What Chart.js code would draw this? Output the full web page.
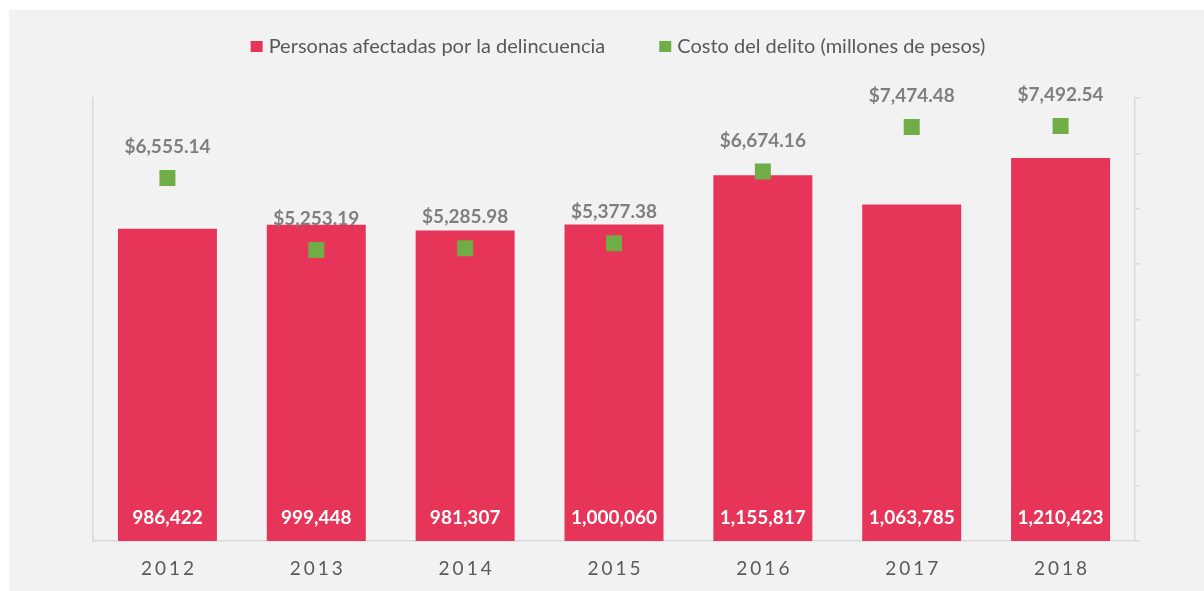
<!DOCTYPE html>
<html>
<head>
<meta charset="utf-8">
<script src="https://cdn.jsdelivr.net/npm/chart.js@4.4.1/dist/chart.umd.min.js"></script>
<style>
  html, body { margin: 0; padding: 0; background: #fff; }
  #wrap { position: absolute; left: 9px; top: 10px; width: 1195px; height: 581px; background: #f2f2f2; }
</style>
</head>
<body>
<div id="wrap"><canvas id="chart" width="1195" height="581"></canvas></div>
<script>
const years = ['2012', '2013', '2014', '2015', '2016', '2017', '2018'];
const personas = [986422, 999448, 981307, 1000060, 1155817, 1063785, 1210423];
const costo = [6555.14, 5253.19, 5285.98, 5377.38, 6674.16, 7474.48, 7492.54];

const FONT = 'Lato, "Open Sans", sans-serif';

// labels, legend and spaced year ticks
const labelPlugin = {
    id: 'labelPlugin',
    afterDraw(chart) {
        const ctx = chart.ctx;
        ctx.save();
        ctx.textAlign = 'center';
        ctx.textBaseline = 'middle';

        // bar values
        ctx.font = 'bold 19px ' + FONT;
        ctx.fillStyle = '#ffffff';
        chart.getDatasetMeta(0).data.forEach((el, i) => {
            ctx.fillText(personas[i].toLocaleString('en-US'), el.x, el.base - 23.5);
        });

        // cost values
        ctx.fillStyle = '#7f7f7f';
        chart.getDatasetMeta(1).data.forEach((el, i) => {
            const txt = '$' + costo[i].toLocaleString('en-US', {minimumFractionDigits: 2});
            ctx.fillText(txt, el.x, el.y - 31);
        });

        // year ticks with letter spacing
        const xs = chart.scales.x;
        ctx.font = '19px ' + FONT;
        ctx.fillStyle = '#595959';
        ctx.letterSpacing = '3px';
        years.forEach((y, i) => {
            ctx.fillText(y, xs.getPixelForValue(i) + 1.5, xs.top + 27.5);
        });
        ctx.letterSpacing = '0px';

        // legend
        ctx.font = '20px ' + FONT;
        ctx.textAlign = 'left';
        const items = chart.data.datasets.map(d => ({
            text: d.label,
            color: d.backgroundColor,
            w: ctx.measureText(d.label).width
        }));
        const box = 12, gap = 6, spacing = 54;
        let total = 0;
        items.forEach((it, i) => { total += box + gap + it.w + (i ? spacing : 0); });
        let x = 609 - total / 2;
        const cy = 36.5;
        items.forEach(it => {
            ctx.fillStyle = it.color;
            ctx.fillRect(x, cy - 5.5, box, 11);
            ctx.fillStyle = '#595959';
            ctx.fillText(it.text, x + box + gap, cy);
            x += box + gap + it.w + spacing;
        });
        ctx.restore();
    }
};

new Chart(document.getElementById('chart'), {
    data: {
        labels: years,
        datasets: [{
            type: 'bar',
            label: 'Personas afectadas por la delincuencia',
            data: personas,
            backgroundColor: '#e73559',
            barPercentage: 0.665,
            categoryPercentage: 1.0,
            yAxisID: 'y',
            order: 1
        }, {
            type: 'line',
            label: 'Costo del delito (millones de pesos)',
            data: costo,
            showLine: false,
            pointStyle: 'rect',
            pointRadius: 11.3,
            pointHoverRadius: 11.3,
            pointBorderWidth: 0,
            backgroundColor: '#70ad47',
            borderColor: '#70ad47',
            yAxisID: 'y1',
            order: 0
        }]
    },
    options: {
        responsive: false,
        animation: false,
        devicePixelRatio: 1,
        layout: { padding: { top: 88, left: 0, right: 0, bottom: 0 } },
        plugins: {
            legend: { display: false },
            tooltip: { enabled: false }
        },
        scales: {
            x: {
                grid: { display: false },
                border: { display: true, color: '#d9d9d9', width: 1.5 },
                ticks: { display: false },
                afterFit(s) { s.height = 50; }
            },
            y: {
                position: 'left',
                min: 0,
                max: 1400000,
                grid: { display: false },
                border: { display: true, color: '#d9d9d9', width: 1.5 },
                ticks: { display: false },
                afterFit(s) { s.width = 84; }
            },
            y1: {
                position: 'right',
                min: 0,
                max: 8000,
                ticks: { display: false, stepSize: 1000 },
                grid: { drawOnChartArea: false, drawTicks: true, tickLength: 5, color: '#d9d9d9', lineWidth: 1.5 },
                border: { display: true, color: '#d9d9d9', width: 1.5 },
                afterFit(s) { s.width = 69; }
            }
        }
    },
    plugins: [labelPlugin]
});
</script>
</body>
</html>
